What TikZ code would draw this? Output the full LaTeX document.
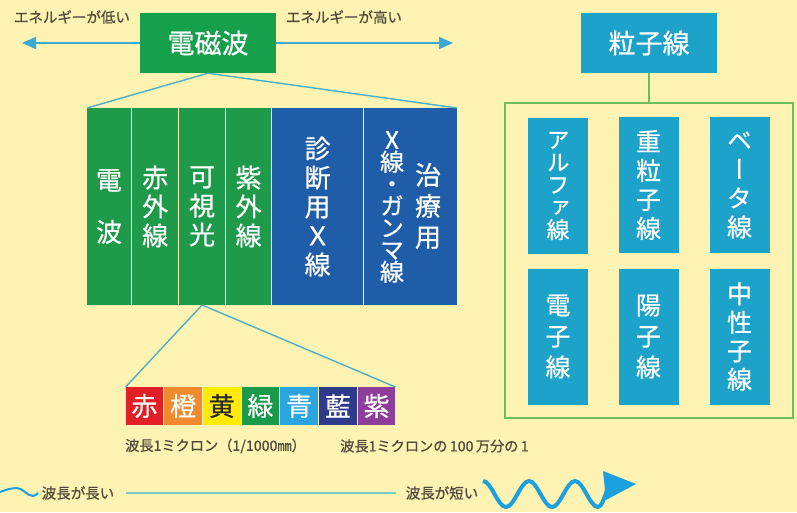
\documentclass[tikz,border=0pt]{standalone}
\usepackage{fontspec}
\setmainfont[FakeBold=0.6]{Noto Sans CJK JP}
\newfontfamily\jpv[RawFeature=+vert,FakeBold=0.6]{Noto Sans CJK JP}
\usetikzlibrary{arrows.meta}
\definecolor{bg}{HTML}{FFF3B3}
\definecolor{tgray}{HTML}{4D4A3C}
\definecolor{emgreen}{HTML}{17A04C}
\definecolor{bandgreen}{HTML}{1F9A4B}
\definecolor{bandblue}{HTML}{1F5DA8}
\definecolor{pteal}{HTML}{1DA2C9}
\definecolor{framegreen}{HTML}{6DBD5E}
\definecolor{lineblue}{HTML}{3DAAD6}
\definecolor{connteal}{HTML}{4BAFC8}
\definecolor{bottomline}{HTML}{79CCC6}
\definecolor{wave}{HTML}{1DA0DE}
\definecolor{sred}{HTML}{E21F26}
\definecolor{sorange}{HTML}{F08A2E}
\definecolor{syellow}{HTML}{FFEB00}
\definecolor{sgreen}{HTML}{1A9A4B}
\definecolor{sblue}{HTML}{2AA5E0}
\definecolor{sindigo}{HTML}{2E3A8C}
\definecolor{spurple}{HTML}{8E3E98}
\begin{document}
\begin{tikzpicture}[x=1pt,y=-1pt,
  lbl/.style={text=tgray,font=\fontsize{14.5pt}{16pt}\selectfont,inner sep=0pt},
  headbox/.style={fill=#1,text=white,minimum width=136pt,minimum height=60pt,inner sep=0pt,font=\fontsize{27pt}{30pt}\selectfont},
  band/.style={fill=#1,inner sep=0pt,outer sep=0pt,minimum height=197pt,text=white,align=center,font=\jpv\fontsize{26pt}{29pt}\selectfont},
  vtext/.style 2 args={text=white,align=center,inner sep=0pt,font=\jpv\fontsize{#1}{#2}\selectfont},
  pbox/.style 2 args={fill=pteal,minimum width=60pt,minimum height=136pt,inner sep=0pt,outer sep=0pt,text=white,align=center,font=\jpv\fontsize{#1}{#2}\selectfont},
  spec/.style={fill=#1,minimum width=37.7pt,minimum height=38pt,inner sep=0pt,outer sep=0pt,text=white,font=\fontsize{26pt}{28pt}\selectfont},
  conn/.style={draw=connteal,line width=1.4pt},
  tiparrow/.style={draw=lineblue,line width=1.5pt,-{Triangle[length=14pt,width=12pt]}},
]
\fill[bg] (0,0) rectangle (797,512);
\useasboundingbox (0,0) rectangle (797,512);

% electromagnetic wave header
\node[headbox=emgreen] (emw) at (208,43) {電磁波};
\coordinate (ltip) at (22,43);
\coordinate (rtip) at (453,43);
\draw[tiparrow] (emw.west) -- (ltip);
\draw[tiparrow] (emw.east) -- (rtip);
\node[lbl] (low) at (72,17) {エネルギーが低い};
\node[lbl] (high) at (344,17) {エネルギーが高い};

% bands
\node[band=bandgreen,minimum width=44pt] (b1) at (109,206.5) {電\\[23pt]波};
\node[band=bandgreen,minimum width=45.8pt] (b2) at (155.1,206.5) {赤\\外\\線};
\node[band=bandgreen,minimum width=45.8pt] (b3) at (202.1,206.5) {可\\視\\光};
\node[band=bandgreen,minimum width=44.8pt] (b4) at (248.6,206.5) {紫\\外\\線};
\node[band=bandblue,minimum width=90.8pt] (b5) at (317.6,206.5) {診\\断\\用\\Ｘ\\線};
\node[band=bandblue,minimum width=92.8pt] (b6) at (410.6,206.5) {};
\node[vtext={26pt}{31pt}] (t6a) at (428,206) {治\\療\\用};
\node[vtext={24pt}{22pt}] (t6b) at (392,207) {X\\線\\・\\ガ\\ン\\マ\\線};
\draw[conn] (emw.south) -- (b1.north west);
\draw[conn] (emw.south) -- (b6.north east);

% spectrum
\node[spec=sred] (s1) at (144.4,406) {赤};
\node[spec=sorange] (s2) at (183.1,406) {橙};
\node[spec=syellow,text=black!85] (s3) at (221.8,406) {黄};
\node[spec=sgreen] (s4) at (260.5,406) {緑};
\node[spec=sblue] (s5) at (299.2,406) {青};
\node[spec=sindigo] (s6) at (337.9,406) {藍};
\node[spec=spurple] (s7) at (376.6,406) {紫};
\draw[conn] (b3.south) -- (s1.north west);
\draw[conn] (b3.south) -- (s7.north east);
\node[lbl,anchor=west,font=\fontsize{14.2pt}{16pt}\selectfont] (cap1) at (125,446) {波長1ミクロン（1/1000㎜）};
\node[lbl,anchor=west,font=\fontsize{14.2pt}{16pt}\selectfont] (cap2) at (340,446) {波長1ミクロンの\,100\,万分の\,1};

% particle beams
\node[headbox=pteal] (pp) at (649,43) {粒子線};
\node[draw=framegreen,line width=1.6pt,minimum width=288pt,minimum height=315pt,inner sep=0pt] (frame) at (649,260.5) {};
\draw[draw=framegreen,line width=1.6pt] (pp.south) -- (frame.north);
\node[pbox={23pt}{22.5pt}] (p1) at (558,186) {ア\\ル\\フ\\ァ\\線};
\node[pbox={25pt}{29pt}] (p2) at (648.5,185) {重\\粒\\子\\線};
\node[pbox={25pt}{29pt}] (p3) at (739.5,185) {ベ\\ー\\タ\\線};
\node[pbox={25pt}{31pt}] (p4) at (558,336.5) {電\\子\\線};
\node[pbox={25pt}{31pt}] (p5) at (648.5,336.5) {陽\\子\\線};
\node[pbox={25pt}{28.5pt}] (p6) at (739.5,336.5) {中\\性\\子\\線};

% wavelength axis
\node[lbl] (longw) at (78,493) {波長が長い};
\node[lbl] (shortw) at (442,493) {波長が短い};
\draw[draw=wave,line width=2pt] (0,492) sin (17,488) cos (25,492) sin (33,496) cos (38,493);
\draw[draw=bottomline,line width=2.5pt] (126,493) -- (396,493);
\draw[draw=wave,line width=4pt] (483,481) cos (494.5,494) sin (506,507) cos (517.5,494) sin (529,481) cos (540.5,494) sin (552,507) cos (563.5,494) sin (575,481) cos (586.5,494) sin (598,507) cos (607,490);
\fill[wave] (603,471) -- (636,484) -- (606,500) -- cycle;
\end{tikzpicture}
\end{document}
